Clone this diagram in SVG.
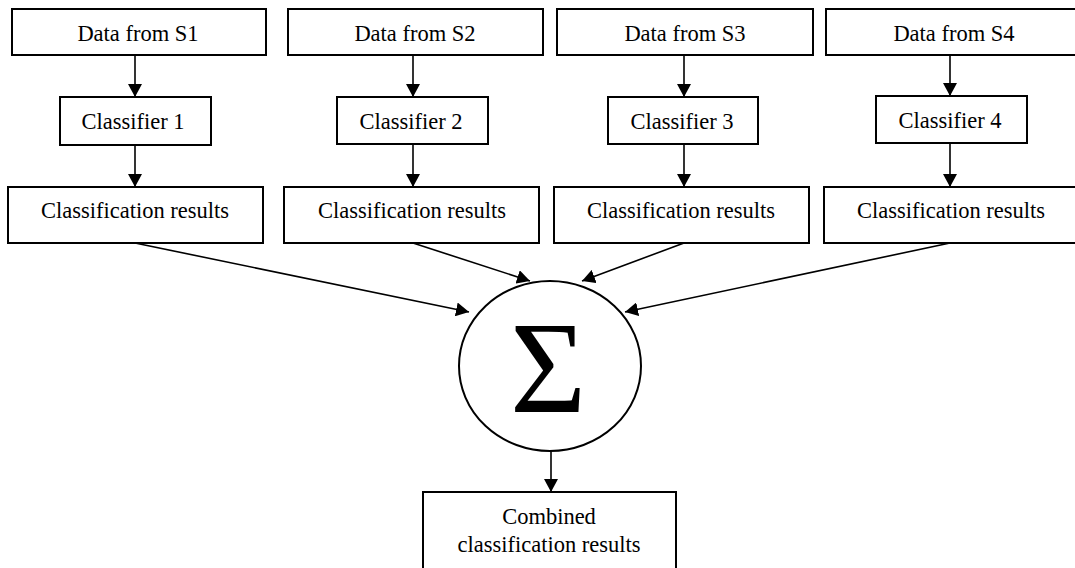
<svg xmlns="http://www.w3.org/2000/svg" width="1075" height="568" viewBox="0 0 1075 568">
<style>
.box{fill:#fff;stroke:#000;stroke-width:2}
.lbl{font-family:"Liberation Serif","Times New Roman",serif;font-size:22.5px;fill:#000;text-anchor:middle}
.con{stroke:#000;stroke-width:1.6;fill:none;marker-end:url(#ah)}
</style>
<defs>
<marker id="ah" markerUnits="userSpaceOnUse" markerWidth="14" markerHeight="14" refX="13" refY="7" orient="auto">
<path d="M0,0 L13,7 L0,14 z" fill="#000"/>
</marker>
</defs>
<rect width="1075" height="568" fill="#fff"/>
<g id="connectors">
<line class="con" x1="135" y1="55" x2="135" y2="97"/>
<line class="con" x1="413" y1="55" x2="413" y2="97"/>
<line class="con" x1="684" y1="55" x2="684" y2="97"/>
<line class="con" x1="950" y1="55" x2="950" y2="96"/>
<line class="con" x1="135" y1="145" x2="135" y2="187"/>
<line class="con" x1="413" y1="144" x2="413" y2="187"/>
<line class="con" x1="684" y1="144" x2="684" y2="187"/>
<line class="con" x1="950" y1="143" x2="950" y2="187"/>
<line class="con" x1="135" y1="243" x2="469" y2="312"/>
<line class="con" x1="413" y1="243" x2="530" y2="281"/>
<line class="con" x1="684" y1="243" x2="582" y2="281"/>
<line class="con" x1="950" y1="243" x2="625" y2="312"/>
<line class="con" x1="551" y1="451" x2="551" y2="492"/>
</g>
<g id="s1"><rect class="box" x="12" y="9" width="254" height="46"/><text class="lbl" x="138" y="41">Data from S1</text></g>
<g id="s2"><rect class="box" x="288" y="9" width="255" height="46"/><text class="lbl" x="415" y="41">Data from S2</text></g>
<g id="s3"><rect class="box" x="557" y="9" width="256" height="46"/><text class="lbl" x="685" y="41">Data from S3</text></g>
<g id="s4"><rect class="box" x="826" y="9" width="256" height="46"/><text class="lbl" x="954" y="41">Data from S4</text></g>
<g id="c1"><rect class="box" x="60" y="97" width="151" height="48"/><text class="lbl" x="133" y="129">Classifier 1</text></g>
<g id="c2"><rect class="box" x="337" y="97" width="151" height="47"/><text class="lbl" x="411" y="129">Classifier 2</text></g>
<g id="c3"><rect class="box" x="608" y="97" width="150" height="47"/><text class="lbl" x="682" y="129">Classifier 3</text></g>
<g id="c4"><rect class="box" x="876" y="96" width="151" height="47"/><text class="lbl" x="950" y="128">Classifier 4</text></g>
<g id="r1"><rect class="box" x="8" y="187" width="255" height="56"/><text class="lbl" x="135" y="218">Classification results</text></g>
<g id="r2"><rect class="box" x="284" y="187" width="255" height="56"/><text class="lbl" x="412" y="218">Classification results</text></g>
<g id="r3"><rect class="box" x="554" y="187" width="255" height="56"/><text class="lbl" x="681" y="218">Classification results</text></g>
<g id="r4"><rect class="box" x="824" y="187" width="256" height="56"/><text class="lbl" x="951" y="218">Classification results</text></g>
<g id="sum"><ellipse cx="550" cy="366" rx="91" ry="85" fill="#fff" stroke="#000" stroke-width="2"/><text x="548" y="412" style="font-family:'Liberation Serif','Times New Roman',serif;font-size:131px;text-anchor:middle" fill="#000">Σ</text></g>
<g id="combined"><rect class="box" x="423" y="492" width="253" height="80"/><text class="lbl" x="549" y="524">Combined</text><text class="lbl" x="549" y="552">classification results</text></g>
</svg>
